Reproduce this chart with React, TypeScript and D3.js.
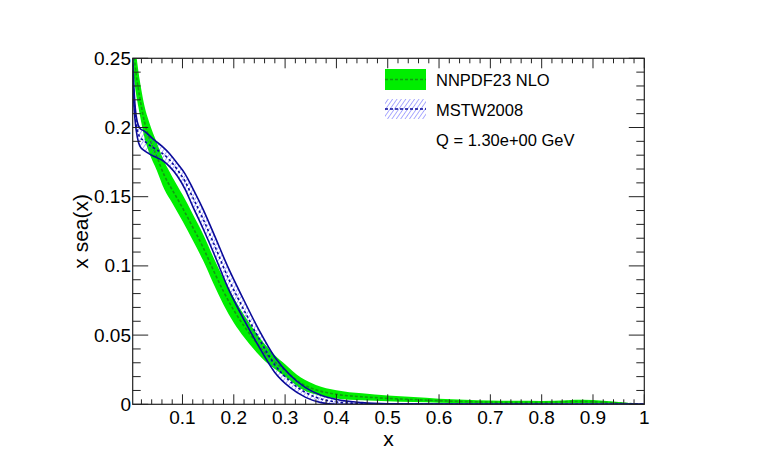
import React from 'react';
import * as d3 from 'd3';

// NNPDF23 NLO band (green)
const nnX = [0.003, 0.008, 0.014, 0.02, 0.026, 0.035, 0.05, 0.065, 0.08, 0.1, 0.12, 0.14, 0.16, 0.18, 0.2, 0.22, 0.24, 0.26, 0.28, 0.3, 0.33, 0.36, 0.4, 0.45, 0.5, 0.55, 0.6, 0.65, 0.7, 0.75, 0.8, 0.85, 0.88, 0.92, 0.96, 1];
const nnCentral = [0.265, 0.244, 0.228, 0.215, 0.204, 0.193, 0.179, 0.165, 0.155, 0.142, 0.128, 0.1135, 0.097, 0.0815, 0.068, 0.0565, 0.0465, 0.0375, 0.0305, 0.0245, 0.0155, 0.0105, 0.0072, 0.0054, 0.0043, 0.0034, 0.0026, 0.002, 0.0016, 0.0014, 0.0014, 0.0019, 0.002, 0.0015, 0.0007, 0];
const nnLow = [0.245, 0.228, 0.215, 0.203, 0.1925, 0.182, 0.169, 0.155, 0.1455, 0.1325, 0.1185, 0.104, 0.0875, 0.072, 0.059, 0.0485, 0.0395, 0.0315, 0.0255, 0.02, 0.0115, 0.007, 0.0042, 0.0029, 0.0022, 0.0016, 0.0011, 0.0007, 0.0004, 0.0003, 0.0004, 0.0008, 0.0008, 0.0005, 0.0001, 0];
const nnHigh = [0.285, 0.26, 0.241, 0.227, 0.2155, 0.204, 0.189, 0.175, 0.1645, 0.1515, 0.1375, 0.123, 0.1065, 0.091, 0.077, 0.0645, 0.0535, 0.0435, 0.0355, 0.029, 0.0195, 0.014, 0.0102, 0.0079, 0.0064, 0.0052, 0.0041, 0.0033, 0.0028, 0.0025, 0.0024, 0.003, 0.0032, 0.0025, 0.0013, 0];

// MSTW2008 band (blue hatch)
const msX = [0.003, 0.005, 0.008, 0.012, 0.017, 0.025, 0.033, 0.045, 0.06, 0.075, 0.09, 0.105, 0.12, 0.14, 0.16, 0.19, 0.22, 0.25, 0.28, 0.31, 0.34, 0.37, 0.4, 0.45, 0.5, 0.6, 0.8, 1];
const msCentral = [0.2455, 0.2255, 0.209, 0.1985, 0.193, 0.1905, 0.188, 0.185, 0.1815, 0.1765, 0.1695, 0.161, 0.1495, 0.134, 0.117, 0.0905, 0.068, 0.047, 0.0285, 0.0165, 0.0085, 0.0038, 0.0017, 0.0005, 0.0002, 0, 0, 0];
const msLow = [0.241, 0.219, 0.204, 0.193, 0.1865, 0.1835, 0.1815, 0.179, 0.1765, 0.1717, 0.165, 0.1555, 0.143, 0.127, 0.11, 0.083, 0.061, 0.041, 0.023, 0.012, 0.005, 0.0012, 0, 0, 0, 0, 0, 0];
const msHigh = [0.25, 0.232, 0.214, 0.204, 0.1995, 0.1975, 0.195, 0.191, 0.1865, 0.181, 0.174, 0.1665, 0.156, 0.141, 0.124, 0.098, 0.075, 0.053, 0.034, 0.021, 0.012, 0.0065, 0.0035, 0.0012, 0.0004, 0.0001, 0, 0];

const xTicks = [0.1, 0.2, 0.3, 0.4, 0.5, 0.6, 0.7, 0.8, 0.9, 1];
const xTickLabels = ['0.1', '0.2', '0.3', '0.4', '0.5', '0.6', '0.7', '0.8', '0.9', '1'];
const yTicks = [0, 0.05, 0.1, 0.15, 0.2, 0.25];
const yTickLabels = ['0', '0.05', '0.1', '0.15', '0.2', '0.25'];

const legendLabels = ['NNPDF23 NLO', 'MSTW2008', 'Q = 1.30e+00 GeV'];

const W = 763;
const H = 458;
const L = 132.7, R = 644.3, T = 58.3, B = 404.3;
const FONT = '"Liberation Sans", Arial, Helvetica, sans-serif';

const App = () => {
  const x = d3.scaleLinear().domain([0.003, 1]).range([L, R]);
  const y = d3.scaleLinear().domain([0, 0.25]).range([B, T]);

  const band = (xs: number[], lo: number[], hi: number[]) =>
    d3.area<number>()
      .x((_, i) => x(xs[i]))
      .y0((_, i) => y(lo[i]))
      .y1((_, i) => y(hi[i]))
      .curve(d3.curveMonotoneX)(xs.map((_, i) => i)) || '';

  const line = (xs: number[], ys: number[]) =>
    d3.line<number>()
      .x((_, i) => x(xs[i]))
      .y((_, i) => y(ys[i]))
      .curve(d3.curveMonotoneX)(xs.map((_, i) => i)) || '';

  const xMinor = d3.range(0.02, 1.0001, 0.02).filter((v) => Math.abs(v * 10 - Math.round(v * 10)) > 1e-6);
  const yMinor = d3.range(0.01, 0.2501, 0.01).filter((v) => Math.abs(v * 20 - Math.round(v * 20)) > 1e-6);

  return (
    <svg width={W} height={H} style={{ position: 'absolute', left: 0, top: 0, background: '#fff' }}>
      <defs>
        <clipPath id="frame">
          <rect x={L} y={T} width={R - L} height={B - T} />
        </clipPath>
        <pattern id="hatch" patternUnits="userSpaceOnUse" width="3.6" height="10" patternTransform="rotate(35)">
          <line x1="0" y1="0" x2="0" y2="10" stroke="#3c3cff" strokeWidth="0.9" />
        </pattern>
      </defs>

      <g clipPath="url(#frame)">
        <path d={band(nnX, nnLow, nnHigh)} fill="#00ee00" />
        <path d={line(nnX, nnCentral)} fill="none" stroke="#119911" strokeWidth={1.6} strokeDasharray="3,2" />
        <path d={band(msX, msLow, msHigh)} fill="url(#hatch)" />
        <path d={line(msX, msLow)} fill="none" stroke="#0a0a99" strokeWidth={1.6} />
        <path d={line(msX, msHigh)} fill="none" stroke="#0a0a99" strokeWidth={1.6} />
        <path d={line(msX, msCentral)} fill="none" stroke="#0a0a99" strokeWidth={1.6} strokeDasharray="2.5,2.5" />
      </g>

      {/* frame */}
      <rect x={L} y={T} width={R - L} height={B - T} fill="none" stroke="#222" strokeWidth={1.2} />

      {/* x ticks bottom and top */}
      {xTicks.map((v) => (
        <g key={'xt' + v}>
          <line x1={x(v)} x2={x(v)} y1={B} y2={B - 10} stroke="#222" />
          <line x1={x(v)} x2={x(v)} y1={T} y2={T + 10} stroke="#222" />
        </g>
      ))}
      {xMinor.map((v) => (
        <g key={'xm' + v}>
          <line x1={x(v)} x2={x(v)} y1={B} y2={B - 5} stroke="#222" />
          <line x1={x(v)} x2={x(v)} y1={T} y2={T + 5} stroke="#222" />
        </g>
      ))}
      {/* y ticks left and right */}
      {yTicks.map((v) => (
        <g key={'yt' + v}>
          <line x1={L} x2={L + 15.5} y1={y(v)} y2={y(v)} stroke="#222" />
          <line x1={R} x2={R - 15.5} y1={y(v)} y2={y(v)} stroke="#222" />
        </g>
      ))}
      {yMinor.map((v) => (
        <g key={'ym' + v}>
          <line x1={L} x2={L + 8} y1={y(v)} y2={y(v)} stroke="#222" />
          <line x1={R} x2={R - 8} y1={y(v)} y2={y(v)} stroke="#222" />
        </g>
      ))}

      {/* tick labels */}
      <g fontFamily={FONT} fontSize={19} fill="#000">
        {xTicks.map((v, i) => (
          <text key={'xl' + v} x={x(v)} y={424} textAnchor="middle">{xTickLabels[i]}</text>
        ))}
        {yTicks.map((v, i) => (
          <text key={'yl' + v} x={131} y={y(v) + 6.5} textAnchor="end">{yTickLabels[i]}</text>
        ))}
      </g>

      {/* axis titles */}
      <text x={(L + R) / 2} y={445.5} textAnchor="middle" fontFamily={FONT} fontSize={21}>x</text>
      <text transform={`translate(88,${(T + B) / 2}) rotate(-90)`} textAnchor="middle" fontFamily={FONT} fontSize={21}>x sea(x)</text>

      {/* legend */}
      <rect x={385} y={69} width={41} height={21} fill="#00ee00" />
      <line x1={385} x2={426} y1={79.5} y2={79.5} stroke="#119911" strokeWidth={1.6} strokeDasharray="3,2" />
      <rect x={385} y={99} width={41} height={20} fill="url(#hatch)" />
      <line x1={385} x2={426} y1={109} y2={109} stroke="#0a0a99" strokeWidth={1.6} strokeDasharray="3,2" />
      <g fontFamily={FONT} fontSize={16.5} fill="#000">
        <text x={436} y={85.5}>{legendLabels[0]}</text>
        <text x={436} y={115.5}>{legendLabels[1]}</text>
        <text x={436} y={145.5}>{legendLabels[2]}</text>
      </g>
    </svg>
  );
};

export default App;
